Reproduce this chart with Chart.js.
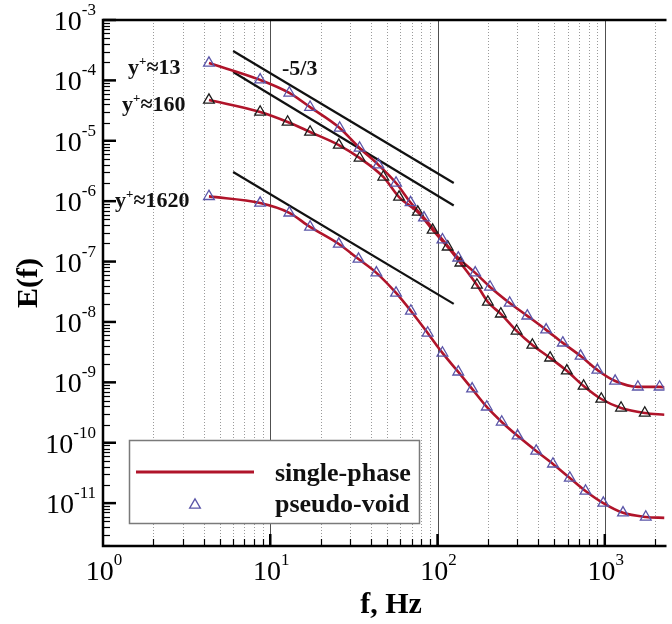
<!DOCTYPE html>
<html>
<head>
<meta charset="utf-8">
<title>E(f) spectra</title>
<script src="https://cdn.jsdelivr.net/npm/chart.js@4.4.1/dist/chart.umd.min.js"></script>
<style>
  html, body { margin: 0; padding: 0; background: #fff; }
  #wrap { width: 672px; height: 624px; overflow: hidden; }
</style>
</head>
<body>
<div id="wrap"><canvas id="spec" width="672" height="624"></canvas></div>
<script>
// axis limits and ticks
const xMin = 1, xMax = 2275;
const yMin = 1.95e-12, yMax = 1e-3;
const xTicks = [1, 10, 100, 1000];
const yTicks = [1e-3, 1e-4, 1e-5, 1e-6, 1e-7, 1e-8, 1e-9, 1e-10, 1e-11];

// y+ ~ 13
const f13 = [4.3, 8.7, 13, 17.3, 26, 34.2, 44.3, 56.5, 69, 83, 107, 133, 168, 206, 270, 344, 446, 561, 717, 903, 1153, 1577, 2126];
const e13 = [1.94e-4, 1.02e-4, 6.2e-5, 3.6e-5, 1.63e-5, 7.6e-6, 4.0e-6, 2.0e-6, 9.5e-7, 5.3e-7, 2.3e-7, 1.15e-7, 6.5e-8, 3.8e-8, 2.06e-8, 1.26e-8, 7.4e-9, 4.5e-9, 2.73e-9, 1.6e-9, 1.05e-9, 8.4e-10, 8.4e-10];
// y+ ~ 160
const f160 = [4.3, 8.7, 12.7, 17.3, 25.7, 34.2, 47.4, 58.9, 76.2, 93.5, 115, 137, 172, 200, 239, 297, 369, 471, 593, 747, 953, 1251, 1734];
const e160 = [4.73e-5, 3.0e-5, 2.05e-5, 1.4e-5, 8.5e-6, 5.2e-6, 2.52e-6, 1.17e-6, 6.6e-7, 3.33e-7, 1.75e-7, 9.5e-8, 4.1e-8, 2.14e-8, 1.36e-8, 7.1e-9, 4.16e-9, 2.54e-9, 1.55e-9, 8.7e-10, 5.3e-10, 3.77e-10, 3.11e-10];
// y+ ~ 1620
const f1620 = [4.3, 8.7, 13, 17.3, 25.7, 33.7, 43.1, 56.5, 69.3, 87.3, 107, 133, 161, 197, 242, 301, 389, 490, 618, 767, 980, 1285, 1758];
const e1620 = [1.2e-6, 9.3e-7, 6.4e-7, 3.74e-7, 1.95e-7, 1.1e-7, 6.5e-8, 3.02e-8, 1.52e-8, 6.58e-9, 3.07e-9, 1.49e-9, 7.8e-10, 3.92e-10, 2.21e-10, 1.3e-10, 7.3e-11, 4.46e-11, 2.61e-11, 1.59e-11, 1.0e-11, 6.9e-12, 5.9e-12];
// line values at the right edge
const tail13 = 8.3e-10, tail160 = 2.9e-10, tail1620 = 5.7e-12;

// -5/3 reference lines
const refF = [6, 125];
const refA = [3.07e-4, 2.0e-6];
const refB = [1.38e-4, 8.5e-7];
const refC = [3.04e-6, 1.99e-8];

const curveLabels = ['y+\u224813', 'y+\u2248160', 'y+\u22481620'];
const legendLabels = ['single-phase', 'pseudo-void'];

const serif = "'Liberation Serif', 'Times New Roman', serif";
const red = '#b0142a';
const blue = '#5a55a8';
const black = '#1c1c1c';

const pts = (xs, ys) => xs.map((x, i) => ({x: x, y: ys[i]}));

function markerSet(xs, ys, color) {
  return {
    data: pts(xs, ys), showLine: false,
    pointStyle: 'triangle', pointRadius: 6.2, pointHoverRadius: 6.2,
    pointBorderColor: color, pointBackgroundColor: 'rgba(0,0,0,0)', pointBorderWidth: 1.3
  };
}
function lineSet(xs, ys, color, width, smooth) {
  return {
    data: pts(xs, ys), borderColor: color, borderWidth: width,
    pointRadius: 0, fill: false, cubicInterpolationMode: smooth ? 'monotone' : 'default', tension: 0
  };
}

function minorValues(maxV) {
  const out = [];
  for (let d = 1; d <= 1e3; d *= 10)
    for (let k = 2; k <= 9; k++) if (k * d < maxV) out.push(k * d);
  return out;
}

function drawPow(ctx, exp, x, base, align) {
  ctx.font = '28px ' + serif;
  const w1 = ctx.measureText('10').width;
  ctx.font = '17px ' + serif;
  const w2 = ctx.measureText(exp).width;
  const left = align === 'right' ? x - w1 - w2 : x - (w1 + w2) / 2;
  ctx.textAlign = 'left';
  ctx.font = '28px ' + serif;
  ctx.fillText('10', left, base);
  ctx.font = '17px ' + serif;
  ctx.fillText(exp, left + w1, base - 15);
}

function drawYPlus(ctx, text, x, base) {
  // text like "y+≈13": y, superscript +, rest
  ctx.textAlign = 'left';
  ctx.font = 'bold 22px ' + serif;
  ctx.fillText('y', x, base);
  let cx = x + ctx.measureText('y').width;
  ctx.font = 'bold 13px ' + serif;
  ctx.fillText('+', cx, base - 9);
  cx += ctx.measureText('+').width;
  ctx.font = 'bold 22px ' + serif;
  ctx.fillText(text.slice(2), cx, base);
}

const frame = {
  id: 'frame',
  beforeDatasetsDraw(chart) {
    const {ctx, chartArea: a, scales: {x}} = chart;
    ctx.save();
    ctx.lineWidth = 1;
    ctx.strokeStyle = '#9a9a9a';
    ctx.setLineDash([1, 2]);
    minorValues(xMax).forEach(v => {
      const px = Math.round(x.getPixelForValue(v)) + 0.5;
      ctx.beginPath(); ctx.moveTo(px, a.top); ctx.lineTo(px, a.bottom); ctx.stroke();
    });
    ctx.setLineDash([]);
    ctx.strokeStyle = '#505050';
    xTicks.slice(1).forEach(v => {
      const px = Math.round(x.getPixelForValue(v)) + 0.5;
      ctx.beginPath(); ctx.moveTo(px, a.top); ctx.lineTo(px, a.bottom); ctx.stroke();
    });
    ctx.restore();
  },
  afterDatasetsDraw(chart) {
    const {ctx, chartArea: a, scales: {x, y}} = chart;
    ctx.save();

    // legend box
    ctx.fillStyle = '#fff';
    ctx.fillRect(129, 440, 291, 84);
    ctx.strokeStyle = '#7a7a7a';
    ctx.lineWidth = 1.5;
    ctx.strokeRect(129.5, 440.5, 290, 83);
    ctx.strokeStyle = red;
    ctx.lineWidth = 3;
    ctx.beginPath(); ctx.moveTo(136, 472); ctx.lineTo(254, 472); ctx.stroke();
    ctx.strokeStyle = blue;
    ctx.lineWidth = 1.3;
    const r = 6.2, cx = 195, cy = 505;
    ctx.beginPath();
    ctx.moveTo(cx, cy - r);
    ctx.lineTo(cx + r * Math.sin(2 * Math.PI / 3), cy + r / 2);
    ctx.lineTo(cx - r * Math.sin(2 * Math.PI / 3), cy + r / 2);
    ctx.closePath(); ctx.stroke();
    ctx.fillStyle = '#111';
    ctx.font = 'bold 26px ' + serif;
    ctx.textAlign = 'left';
    ctx.fillText(legendLabels[0], 275, 481);
    ctx.fillText(legendLabels[1], 275, 512);

    // axis frame
    ctx.strokeStyle = '#000';
    ctx.lineWidth = 2.5;
    ctx.beginPath();
    ctx.moveTo(a.right + 2, a.top);
    ctx.lineTo(a.left, a.top);
    ctx.lineTo(a.left, a.bottom);
    ctx.lineTo(a.right + 2, a.bottom);
    ctx.stroke();

    // y ticks (inward)
    yTicks.forEach(v => {
      const py = y.getPixelForValue(v);
      ctx.lineWidth = 2.5;
      ctx.beginPath(); ctx.moveTo(a.left, py); ctx.lineTo(a.left + 13, py); ctx.stroke();
      ctx.lineWidth = 1.2;
      for (let k = 2; k <= 9; k++) {
        const m = v * k;
        if (m <= yMin || m >= yMax) continue;
        const pm = Math.round(y.getPixelForValue(m)) + 0.5;
        ctx.beginPath(); ctx.moveTo(a.left, pm); ctx.lineTo(a.left + 7, pm); ctx.stroke();
      }
    });
    for (let k = 2; k <= 9; k++) {
      const pm = Math.round(y.getPixelForValue(k * 1e-12)) + 0.5;
      if (k * 1e-12 <= yMin) continue;
      ctx.beginPath(); ctx.moveTo(a.left, pm); ctx.lineTo(a.left + 7, pm); ctx.stroke();
    }
    // x ticks (inward)
    ctx.lineWidth = 1.2;
    minorValues(xMax).forEach(v => {
      const px = Math.round(x.getPixelForValue(v)) + 0.5;
      ctx.beginPath(); ctx.moveTo(px, a.bottom); ctx.lineTo(px, a.bottom - 7); ctx.stroke();
    });
    ctx.lineWidth = 2.5;
    xTicks.slice(1).forEach(v => {
      const px = x.getPixelForValue(v);
      ctx.beginPath(); ctx.moveTo(px, a.bottom); ctx.lineTo(px, a.bottom - 12); ctx.stroke();
    });

    // tick labels
    ctx.fillStyle = '#000';
    ctx.textBaseline = 'alphabetic';
    yTicks.forEach(v => {
      const py = y.getPixelForValue(v);
      drawPow(ctx, String(Math.round(Math.log10(v))), 96, py + 10, 'right');
    });
    xTicks.forEach(v => {
      const px = x.getPixelForValue(v);
      drawPow(ctx, String(Math.round(Math.log10(v))), px + 1, a.bottom + 34, 'center');
    });

    // axis titles
    ctx.font = 'bold 30px ' + serif;
    ctx.textAlign = 'center';
    ctx.fillText('f, Hz', 391, 613);
    ctx.save();
    ctx.translate(37, (a.top + a.bottom) / 2);
    ctx.rotate(-Math.PI / 2);
    ctx.fillText('E(f)', 0, 0);
    ctx.restore();

    // annotations
    ctx.fillStyle = '#111';
    drawYPlus(ctx, curveLabels[0], 128, 74);
    drawYPlus(ctx, curveLabels[1], 122, 111);
    drawYPlus(ctx, curveLabels[2], 115, 207);
    ctx.font = 'bold 22px ' + serif;
    ctx.textAlign = 'left';
    ctx.fillText('-5/3', 282, 75);
    ctx.restore();
  }
};

new Chart(document.getElementById('spec'), {
  type: 'line',
  data: {
    datasets: [
      markerSet(f13, e13, blue),
      markerSet(f160, e160, black),
      markerSet(f1620, e1620, blue),
      lineSet(f13.concat([xMax]), e13.concat([tail13]), red, 2.6, true),
      lineSet(f160.concat([xMax]), e160.concat([tail160]), red, 2.6, true),
      lineSet(f1620.concat([xMax]), e1620.concat([tail1620]), red, 2.6, true),
      lineSet(refF, refA, '#111', 2.2, false),
      lineSet(refF, refB, '#111', 2.2, false),
      lineSet(refF, refC, '#111', 2.2, false)
    ]
  },
  options: {
    responsive: false,
    maintainAspectRatio: false,
    devicePixelRatio: 1,
    animation: false,
    layout: { padding: { left: 103, top: 20, right: 0, bottom: 78 } },
    scales: {
      x: { type: 'logarithmic', min: xMin, max: xMax, display: false },
      y: { type: 'logarithmic', min: yMin, max: yMax, display: false }
    },
    plugins: { legend: { display: false }, tooltip: { enabled: false } }
  },
  plugins: [frame]
});
</script>
</body>
</html>
